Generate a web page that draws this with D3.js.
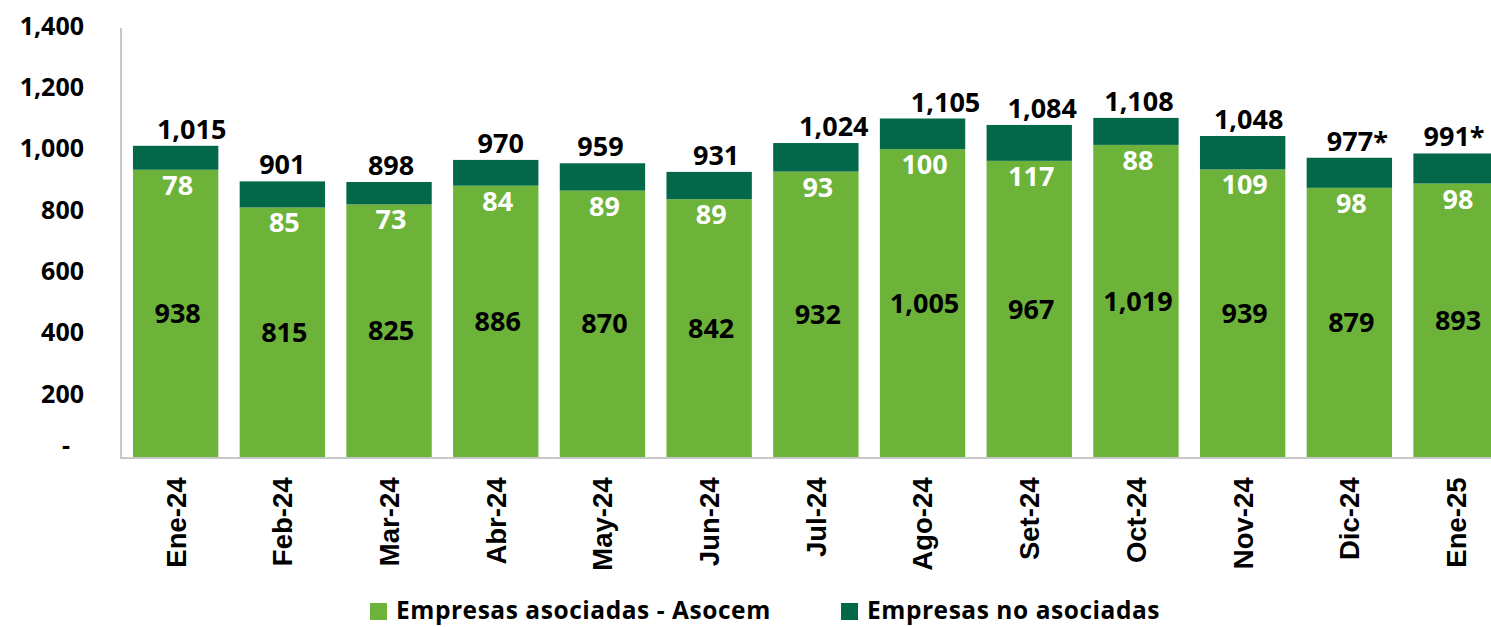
<!DOCTYPE html>
<html>
<head>
<meta charset="utf-8">
<script src="https://cdn.jsdelivr.net/npm/d3@7"></script>
<style>
  body { margin: 0; background: #fff; }
  svg { display: block; font-family: "Open Sans", "Noto Sans", sans-serif; }
</style>
</head>
<body>
<script>
// Months on the x axis
const months = ["Ene-24", "Feb-24", "Mar-24", "Abr-24", "May-24", "Jun-24", "Jul-24",
                "Ago-24", "Set-24", "Oct-24", "Nov-24", "Dic-24", "Ene-25"];
// Empresas asociadas - Asocem (bottom segment)
const asociadas = [938, 815, 825, 886, 870, 842, 932, 1005, 967, 1019, 939, 879, 893];
// Empresas no asociadas (top segment)
const noAsociadas = [78, 85, 73, 84, 89, 89, 93, 100, 117, 88, 109, 98, 98];
// Totals printed above the bars (as shown, rounded)
const totales = [1015, 901, 898, 970, 959, 931, 1024, 1105, 1084, 1108, 1048, 977, 991];
const preliminar = [false, false, false, false, false, false, false, false, false, false, false, true, true];
const yTicks = [0, 200, 400, 600, 800, 1000, 1200, 1400];
const seriesNames = ["Empresas asociadas - Asocem", "Empresas no asociadas"];

const colorLight = "#6db33a";
const colorDark = "#03674a";
// total labels were dragged by hand in the original, small x nudges (px)
const totalNudge = [16, 0, 2, 5, -2, 7, 18, 23, 13, 3, 6, 8, -2];

const width = 1491, height = 627;
const svg = d3.select("body").append("svg")
    .attr("width", width)
    .attr("height", height);

const x = d3.scaleBand()
    .domain(months)
    .range([122.3, 122.3 + 13 * 106.7])
    .paddingInner(0.2)
    .paddingOuter(0.1);

const y = d3.scaleLinear()
    .domain([0, 1400])
    .range([457.5, 28]);

const rows = months.map((m, i) => ({
    month: m,
    a: asociadas[i],
    n: noAsociadas[i],
    total: totales[i],
    star: preliminar[i],
    nudge: totalNudge[i]
}));

// bars
svg.append("g").selectAll("rect")
    .data(rows)
    .join("rect")
    .attr("x", d => x(d.month))
    .attr("width", x.bandwidth())
    .attr("y", d => y(d.a))
    .attr("height", d => y(0) - y(d.a))
    .attr("fill", colorLight);

svg.append("g").selectAll("rect")
    .data(rows)
    .join("rect")
    .attr("x", d => x(d.month))
    .attr("width", x.bandwidth())
    .attr("y", d => y(d.a + d.n))
    .attr("height", d => y(d.a) - y(d.a + d.n))
    .attr("fill", colorDark);

// axis lines
svg.append("line")
    .attr("x1", 121).attr("x2", 121)
    .attr("y1", y(1400)).attr("y2", y(0))
    .attr("stroke", "#c8c8c8").attr("stroke-width", 2);
svg.append("line")
    .attr("x1", 120).attr("x2", width)
    .attr("y1", y(0) + 0.5).attr("y2", y(0) + 0.5)
    .attr("stroke", "#c8c8c8").attr("stroke-width", 2);

// y axis
const yAxis = svg.append("g")
    .attr("transform", "translate(84,0)")
    .call(d3.axisLeft(y).tickValues(yTicks).tickSize(0).tickPadding(0)
        .tickFormat(d => d === 0 ? "-" : d3.format(",")(d)));
yAxis.select(".domain").remove();
yAxis.selectAll("text")
    .attr("font-family", "'Open Sans', sans-serif")
    .attr("font-size", 25)
    .attr("font-weight", 700)
    .attr("fill", "#000")
    .attr("dx", d => d === 0 ? -14 : 0)
    .attr("dy", d => d === 0 ? "-0.1em" : "0.32em")
    .attr("y", -2);

// x axis
const xAxis = svg.append("g")
    .attr("transform", `translate(0,${y(0)})`)
    .call(d3.axisBottom(x).tickSize(0));
xAxis.select(".domain").remove();
xAxis.selectAll("text")
    .attr("font-family", "'Liberation Sans', Arial, sans-serif")
    .attr("font-size", 27.5)
    .attr("font-weight", 700)
    .attr("fill", "#000")
    .attr("text-anchor", "end")
    .attr("transform", "rotate(-90)")
    .attr("x", -20)
    .attr("y", 0)
    .attr("dy", "0.36em");

// labels inside bottom segment
svg.append("g").selectAll("text")
    .data(rows)
    .join("text")
    .attr("x", d => x(d.month) + x.bandwidth() / 2 + 2)
    .attr("y", d => (y(d.a) + y(0)) / 2)
    .attr("dy", "0.35em")
    .attr("text-anchor", "middle")
    .attr("font-size", 27)
    .attr("font-weight", 700)
    .attr("fill", "#000")
    .text(d => d3.format(",")(d.a));

// labels for the top segment, just under it
svg.append("g").selectAll("text")
    .data(rows)
    .join("text")
    .attr("x", d => x(d.month) + x.bandwidth() / 2 + 2)
    .attr("y", d => y(d.a) + 25)
    .attr("text-anchor", "middle")
    .attr("font-size", 27)
    .attr("font-weight", 700)
    .attr("fill", "#fff")
    .text(d => d.n);

// totals
svg.append("g").selectAll("text")
    .data(rows)
    .join("text")
    .attr("x", d => x(d.month) + x.bandwidth() / 2 + d.nudge)
    .attr("y", d => y(d.a + d.n) - 7)
    .attr("text-anchor", "middle")
    .attr("font-size", 27)
    .attr("font-weight", 700)
    .attr("fill", "#000")
    .text(d => d3.format(",")(d.total) + (d.star ? "*" : ""));

// legend
const legendX = [370, 841];
const legend = svg.append("g").selectAll("g")
    .data(seriesNames)
    .join("g")
    .attr("transform", (d, i) => `translate(${legendX[i]},603)`);
legend.append("rect")
    .attr("width", 17).attr("height", 17)
    .attr("fill", (d, i) => i === 0 ? colorLight : colorDark);
legend.append("text")
    .attr("x", 26)
    .attr("y", 16)
    .attr("font-size", 24.5)
    .attr("font-weight", 700)
    .attr("letter-spacing", 0.55)
    .attr("fill", "#000")
    .text(d => d);
</script>
</body>
</html>
